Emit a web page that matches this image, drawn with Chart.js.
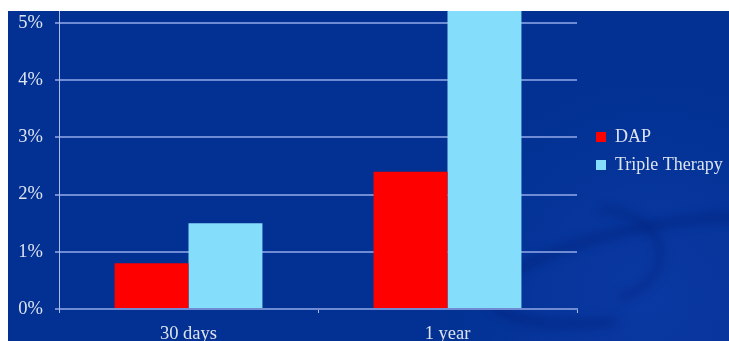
<!DOCTYPE html>
<html>
<head>
<meta charset="utf-8">
<script src="https://cdn.jsdelivr.net/npm/chart.js@4/dist/chart.umd.min.js"></script>
<style>
  html, body { margin: 0; padding: 0; background: #ffffff; }
  #wrap { width: 729px; height: 341px; }
</style>
</head>
<body>
<div id="wrap"><canvas id="rateChart" width="729" height="341"></canvas></div>
<script>
// ==========================
// DATA
// ==========================
const periods = ["30 days", "1 year"];
const dapRates = [0.8, 2.4];        // %
const tripleRates = [1.5, 5.6];     // %, 1 year bar runs off the top
const yMax = 5.21;

// ==========================
// STYLE
// ==========================
const slideBlue = "#023193";
const gridColor = "#6f8bd4";
const axisColor = "#a9bbe6";
const textColor = "#dde3ef";
const serif = "'Liberation Serif', 'Times New Roman', serif";

// slide background with the faint swoosh in the lower right
const slideBackground = {
  id: "slideBackground",
  beforeDraw(chart) {
    const c = chart.ctx;
    c.save();
    c.fillStyle = slideBlue;
    c.fillRect(8, 11, chart.width - 8, chart.height - 11);

    const glow = c.createRadialGradient(650, 300, 10, 650, 300, 220);
    glow.addColorStop(0, "rgba(25,70,190,0.35)");
    glow.addColorStop(1, "rgba(25,70,190,0)");
    c.fillStyle = glow;
    c.fillRect(8, 11, chart.width - 8, chart.height - 11);

    c.filter = "blur(5px)";
    c.strokeStyle = "rgba(0,28,115,0.45)";
    c.lineWidth = 8;
    c.beginPath();
    c.ellipse(660, 270, 170, 45, -0.18, Math.PI * 0.6, Math.PI * 2.0);
    c.stroke();
    c.lineWidth = 6;
    c.beginPath();
    c.ellipse(600, 255, 60, 45, 0, Math.PI * 1.5, Math.PI * 2.4);
    c.stroke();
    c.restore();
  }
};

// fixed legend box so the plot ends where the slide layout puts it
const legendPlacement = {
  id: "legendPlacement",
  afterInit(chart) {
    const lg = chart.legend;
    const fit = lg.fit.bind(lg);
    lg.fit = function () { fit(); this.width = 152; };
  },
  afterLayout(chart) {
    const lg = chart.legend;
    lg.left = chart.chartArea.right + 9;
    lg.right = lg.left + lg.width;
    lg.top -= 25;
    lg.bottom -= 25;
  }
};

// ==========================
// CHART
// ==========================
const ctx = document.getElementById("rateChart").getContext("2d");

new Chart(ctx, {
  type: "bar",
  data: {
    labels: periods,
    datasets: [
      {
        label: "DAP",
        data: dapRates,
        backgroundColor: "#ff0000",
        borderWidth: 0
      },
      {
        label: "Triple Therapy",
        data: tripleRates,
        backgroundColor: "#84ddfb",
        borderWidth: 0
      }
    ]
  },
  options: {
    responsive: false,
    animation: false,
    layout: { padding: { left: 8, top: 11, right: 0, bottom: 0 } },
    categoryPercentage: 0.571,
    barPercentage: 1,
    plugins: {
      tooltip: { enabled: false },
      legend: {
        position: "right",
        align: "center",
        labels: {
          color: textColor,
          font: { family: serif, size: 18 },
          boxWidth: 10,
          boxHeight: 10,
          padding: 10
        }
      }
    },
    scales: {
      x: {
        offset: true,
        afterFit(scale) {
          scale.height = 32;
          scale.paddingLeft = 0;
          scale.paddingRight = 0;
        },
        grid: {
          offset: true,
          drawOnChartArea: false,
          color: axisColor,
          tickLength: 4
        },
        border: { color: gridColor, width: 2 },
        ticks: {
          color: textColor,
          font: { family: serif, size: 18.5 },
          padding: 10,
          maxRotation: 0
        }
      },
      y: {
        min: 0,
        max: yMax,
        afterFit(scale) {
          scale.width = 51;
          scale.paddingTop = 0;
          scale.paddingBottom = 0;
        },
        grid: {
          color: gridColor,
          lineWidth: 2,
          tickLength: 4
        },
        border: { color: axisColor, width: 1 },
        ticks: {
          stepSize: 1,
          includeBounds: false,
          color: textColor,
          font: { family: serif, size: 18.5 },
          padding: 12,
          callback: v => v + "%"
        }
      }
    }
  },
  plugins: [slideBackground, legendPlacement]
});
</script>
</body>
</html>
